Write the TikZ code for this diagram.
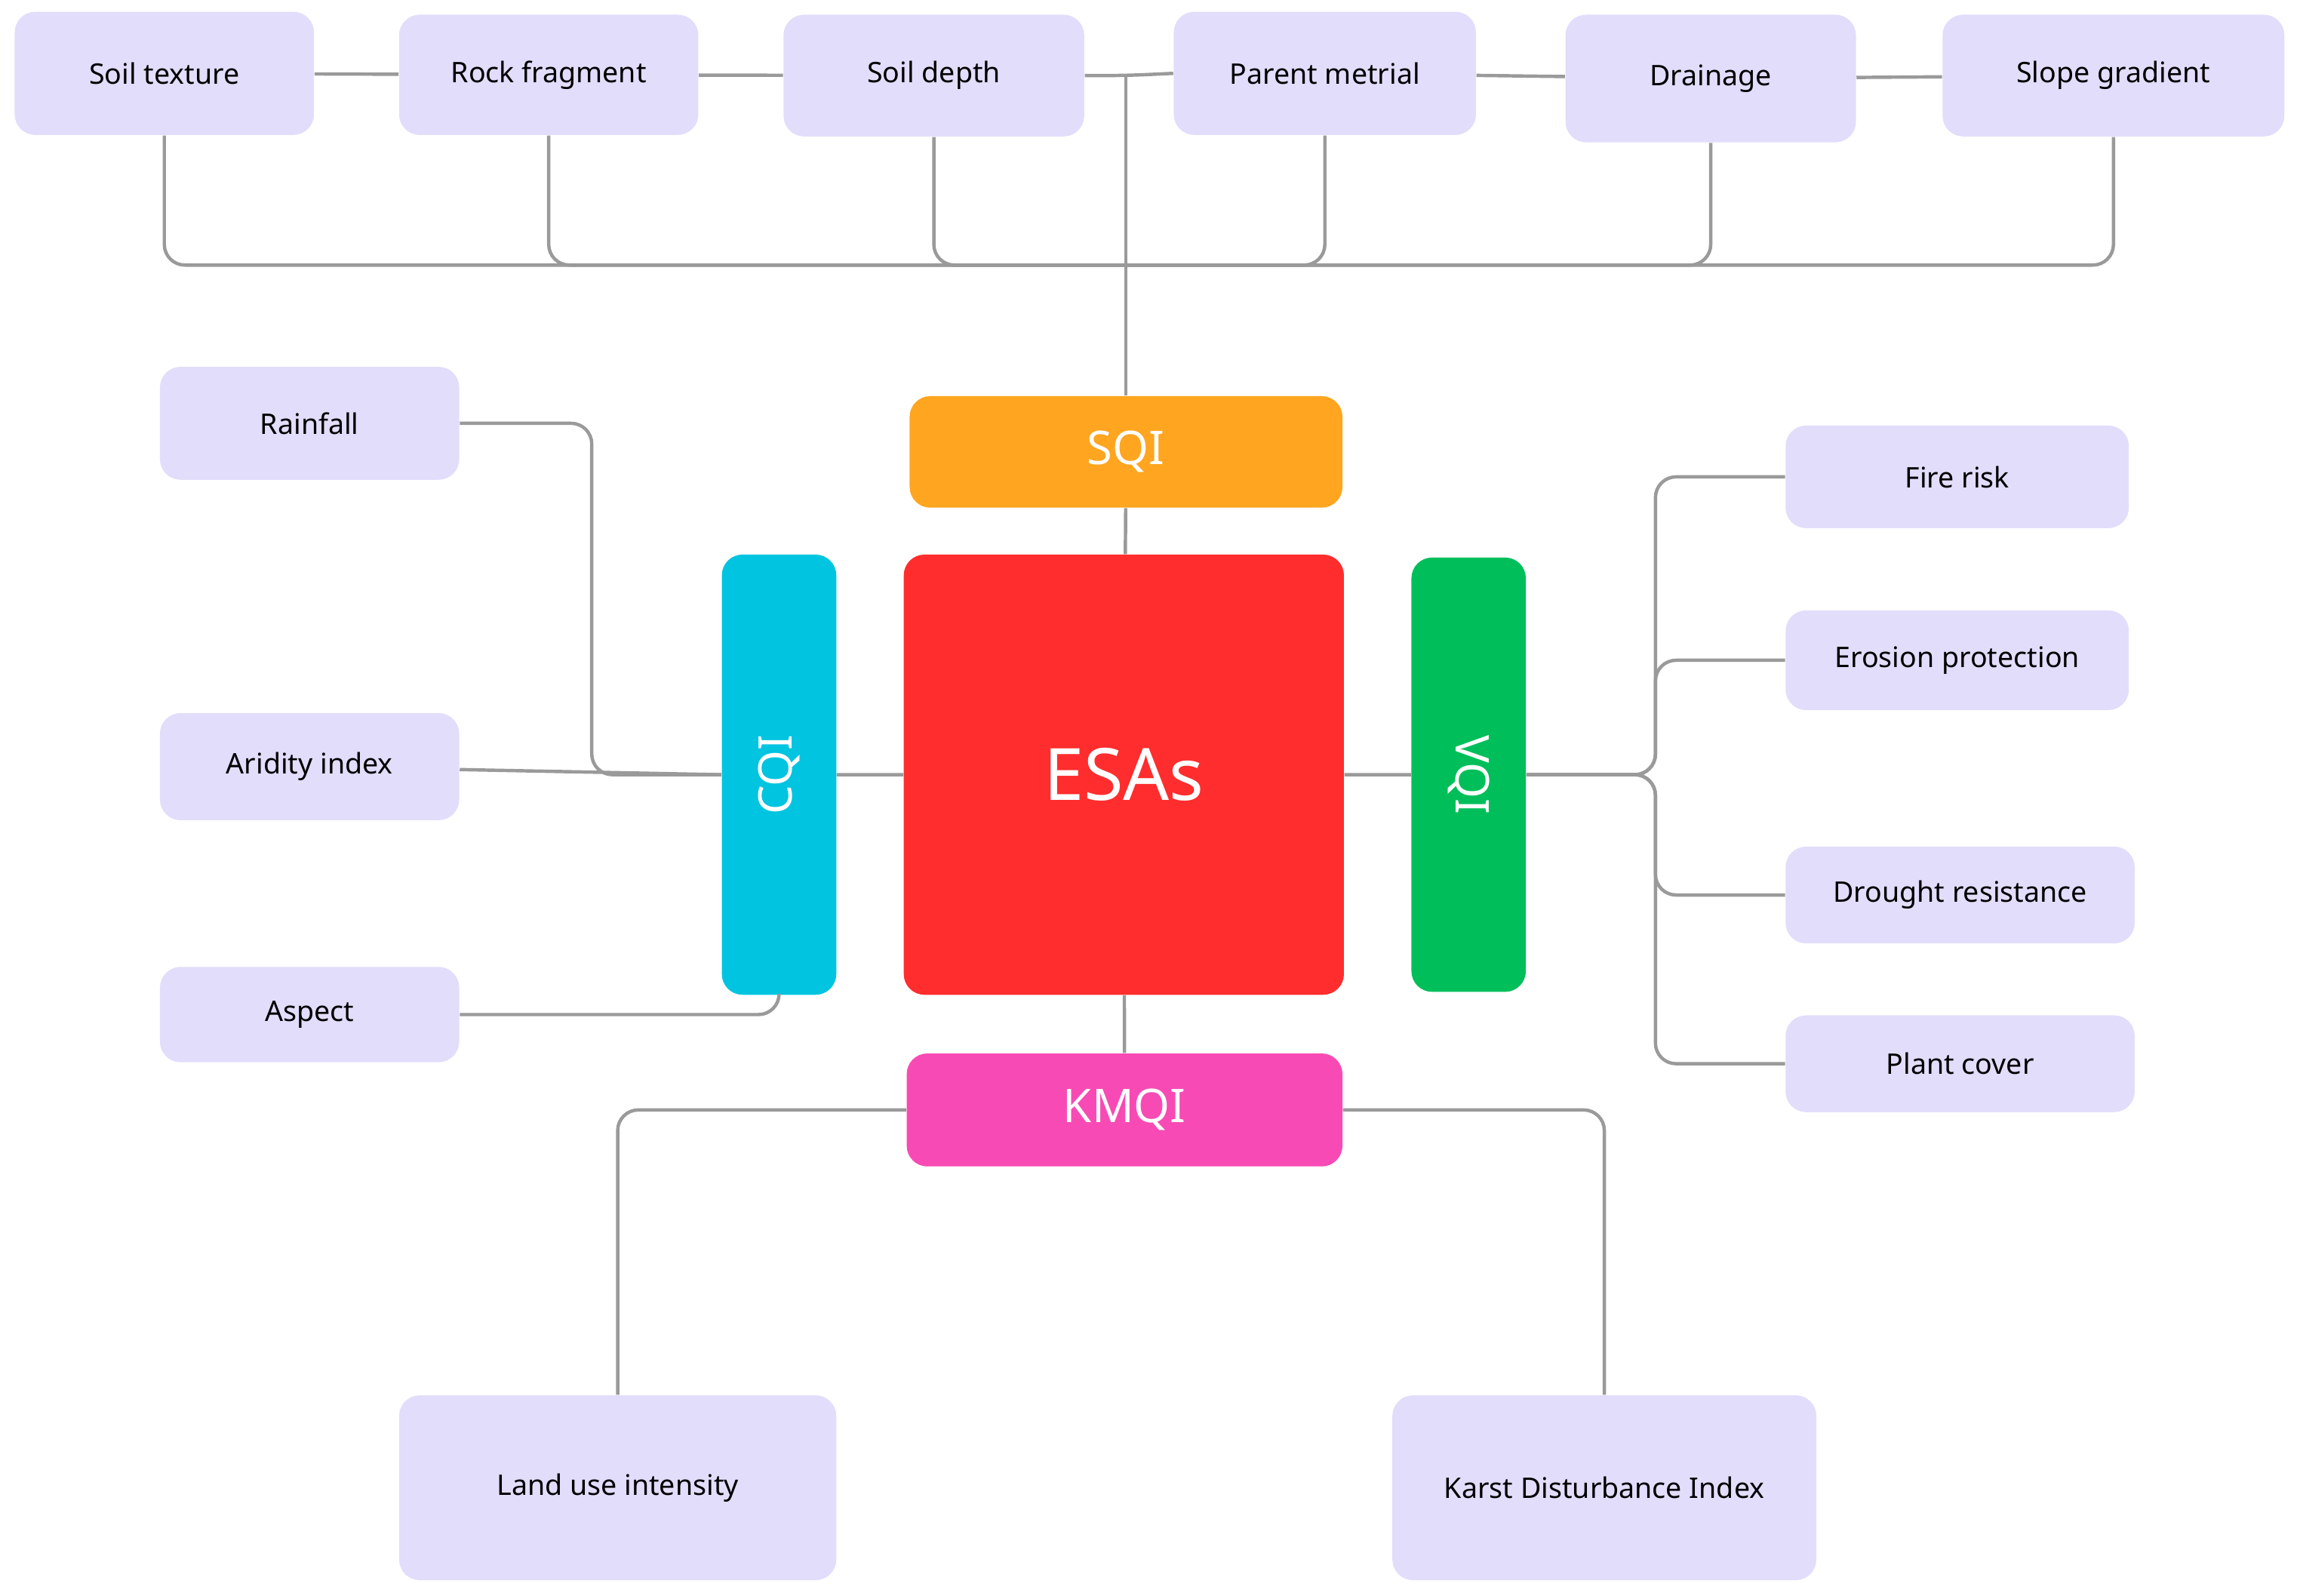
\documentclass[tikz,border=0pt]{standalone}
\usepackage{fontspec}
\setmainfont{Noto Sans}
\usetikzlibrary{calc}
\definecolor{boxlav}{HTML}{E3DDFC}
\definecolor{linegray}{HTML}{9A9A9A}
\definecolor{sqiorange}{HTML}{FFA520}
\definecolor{esared}{HTML}{FF2D2D}
\definecolor{cqicyan}{HTML}{00C4E0}
\definecolor{vqigreen}{HTML}{00BF5A}
\definecolor{kmqipink}{HTML}{F84AB4}
\tikzset{
    factor/.style = {
        fill=boxlav, rectangle, rounded corners=8pt, align=center,
        inner sep=0, font=\fontsize{11}{13}\selectfont
    },
    index/.style = {
        rectangle, rounded corners=8pt, align=center, text=white,
        inner sep=0, font=\bfseries\fontsize{18}{20}\selectfont
    },
    link/.style = {draw=linegray, line width=1.3pt, rounded corners=8pt}
}
% box from corner (x1,y1) to (x2,y2) in reference pixels
\newcommand{\bx}[6]{\node[#1, minimum width={(#4-#2)*0.02cm}, minimum height={(#5-#3)*0.02cm}]
  (#6) at ({(#2+#4)/2*0.02},{-(#3+#5)/2*0.02})}

\begin{document}
\begin{tikzpicture}
\useasboundingbox (0,0) rectangle (31.36,-21.76);

% 1. top row of soil factors
\bx{factor}{10}{8}{214}{92}{texture} {Soil texture};
\bx{factor}{272}{10}{476}{92}{rock} {Rock fragment};
\bx{factor}{534}{10}{739}{93}{depth} {Soil depth};
\bx{factor}{800}{8}{1006}{92}{parent} {Parent metrial};
\bx{factor}{1067}{10}{1265}{97}{drainage} {Drainage};
\bx{factor}{1324}{10}{1557}{93}{slope} {Slope gradient};

% 2. central indices
\bx{index,fill=sqiorange}{620}{270}{915}{346}{SQI} {SQI};
\bx{index,fill=esared,font=\bfseries\fontsize{28}{30}\selectfont}{616}{378}{916}{678}{ESAs} {ESAs};
\bx{index,fill=cqicyan}{492}{378}{570}{678}{CQI} {};
\node[index,rotate=90] at (CQI) {CQI};
\bx{index,fill=vqigreen}{962}{380}{1040}{676}{VQI} {};
\node[index,rotate=-90] at (VQI) {VQI};
\bx{index,fill=kmqipink}{618}{718}{915}{795}{KMQI} {KMQI};

% 3. side factors
\bx{factor}{109}{250}{313}{327}{rainfall} {Rainfall};
\bx{factor}{109}{486}{313}{559}{aridity} {Aridity index};
\bx{factor}{109}{659}{313}{724}{aspect} {Aspect};
\bx{factor}{1217}{290}{1451}{360}{fire} {Fire risk};
\bx{factor}{1217}{416}{1451}{484}{erosion} {Erosion protection};
\bx{factor}{1217}{577}{1455}{643}{drought} {Drought resistance};
\bx{factor}{1217}{692}{1455}{758}{plant} {Plant cover};
\bx{factor}{272}{951}{570}{1077}{landuse} {Land use intensity};
\bx{factor}{949}{951}{1238}{1077}{karst} {Karst Disturbance Index};

% 4. connectors
\coordinate (bus) at ($(SQI.north)+(0,1.78)$);
\coordinate (top) at (SQI.north |- depth.east);
\draw[link] (texture) -- (rock) (rock) -- (depth) (parent) -- (drainage) (drainage) -- (slope);
\draw[link] (depth.east) -- (top) -- (parent.west);
\draw[link] (top) -- (SQI.north);
\foreach \b in {texture,rock,depth,parent,drainage,slope}
  \draw[link] (\b.south) |- (bus);
\draw[link] (SQI) -- (ESAs) (ESAs) -- (KMQI) (CQI) -- (ESAs) (ESAs) -- (VQI);
\draw[link] (aridity) -- (CQI.west);
\draw[link] (rainfall.east) -- ++(1.8,0) |- (CQI.west);
\draw[link] (aspect.east) -| (CQI.south);
\coordinate (vbus) at ($(VQI.east)+(1.76,0)$);
\foreach \b in {fire,erosion,drought,plant}
  \draw[link] (VQI.east) -- (vbus) |- (\b.west);
\draw[link] (KMQI.west) -| (landuse.north);
\draw[link] (KMQI.east) -| (karst.north);

\end{tikzpicture}
\end{document}
